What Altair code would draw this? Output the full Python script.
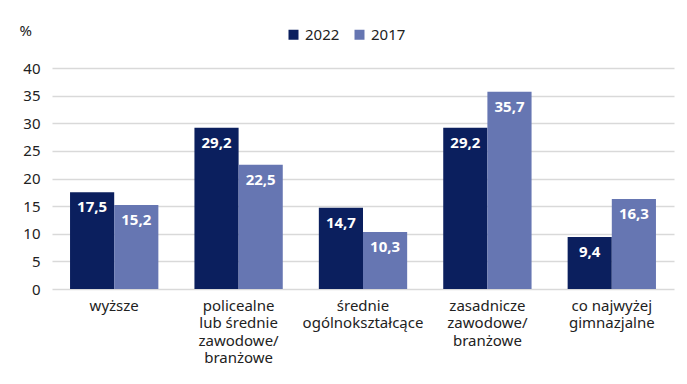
import altair as alt
import pandas as pd

categories = ["wyższe", "policealne|lub  średnie|zawodowe/|branżowe", "średnie|ogólnokształcące",
              "zasadnicze|zawodowe/|branżowe", "co najwyżej|gimnazjalne"]
values_2022 = [17.5, 29.2, 14.7, 29.2, 9.4]
values_2017 = [15.2, 22.5, 10.3, 35.7, 16.3]
years = ["2022", "2017"]
colors = ["#0b1f5e", "#6676b2"]

rows = []
for i, c in enumerate(categories):
    rows.append({"cat": c, "year": "2022", "value": values_2022[i]})
    rows.append({"cat": c, "year": "2017", "value": values_2017[i]})
df = pd.DataFrame(rows)
df["label"] = df["value"].map(lambda v: f"{v:.1f}".replace(".", ","))

font = "Noto Sans"

x = alt.X("cat:N", sort=categories, title=None,
          scale=alt.Scale(paddingInner=0.29, paddingOuter=0.145),
          axis=alt.Axis(labelExpr="split(datum.label, '|')", labelAngle=0, labelFontSize=15,
                        labelColor="#222222", labelFont=font, ticks=False, domain=False,
                        labelPadding=9, labelLineHeight=17.5, labelBaseline="top"))
y = alt.Y("value:Q", scale=alt.Scale(domain=[0, 40]),
          axis=alt.Axis(values=[0, 5, 10, 15, 20, 25, 30, 35, 40], title="%", titleAngle=0,
                        titleAlign="left", titleX=-33, titleY=-30, titleFontSize=15,
                        titleFontWeight="normal", titleColor="#222222", titleFont=font,
                        labelFontSize=15, labelColor="#222222", labelFont=font,
                        ticks=False, domain=False, labelPadding=12,
                        gridColor="#d9d9d9", gridWidth=1.5))

base = alt.Chart(df).encode(
    x=x,
    xOffset=alt.XOffset("year:N", sort=years),
    y=y,
)

bars = base.mark_bar().encode(
    color=alt.Color("year:N", sort=years, scale=alt.Scale(domain=years, range=colors),
                    legend=alt.Legend(title=None, orient="none", legendX=234, legendY=-41,
                                      direction="horizontal", symbolType="square",
                                      symbolSize=100, symbolStrokeWidth=0, labelFontSize=15,
                                      labelFont=font, labelColor="#222222", columnPadding=12,
                                      symbolOpacity=1)),
)

labels = base.mark_text(baseline="top", dy=8, color="white", fontWeight="bold",
                        fontSize=15, font=font).encode(
    text="label:N",
)

chart = alt.layer(bars, labels).properties(
    width=622, height=221,
    padding={"left": 11, "top": 15, "right": 5, "bottom": 5},
).configure_view(stroke=None)

chart.save("out.html", embed_options={"renderer": "svg", "actions": False})
